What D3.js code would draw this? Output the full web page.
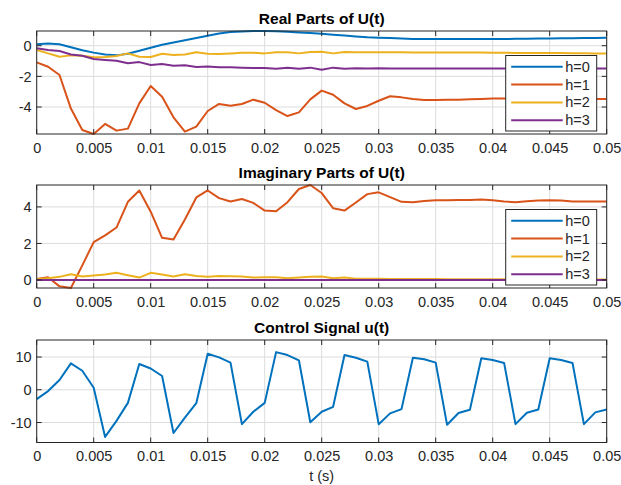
<!DOCTYPE html>
<html><head><meta charset="utf-8">
<script src="https://cdn.jsdelivr.net/npm/d3@7"></script>
<style>
html,body{margin:0;padding:0;background:#fff;}
text{font-family:"Liberation Sans",Arial,sans-serif;}
</style></head>
<body><svg id="c" width="621" height="485"></svg>
<script>
// ---- data ----
const t = [0,0.001,0.002,0.003,0.004,0.005,0.006,0.007,0.008,0.009,
  0.010,0.011,0.012,0.013,0.014,0.015,0.016,0.017,0.018,0.019,
  0.020,0.021,0.022,0.023,0.024,0.025,0.026,0.027,0.028,0.029,
  0.030,0.031,0.032,0.033,0.034,0.035,0.036,0.037,0.038,0.039,
  0.040,0.041,0.042,0.043,0.044,0.045,0.046,0.047,0.048,0.049,0.050];
const seriesNames = ["h=0","h=1","h=2","h=3"];
const realH0 = [0.10,0.15,0.10,-0.10,-0.30,-0.45,-0.58,-0.63,-0.52,-0.33,
  -0.13,0.06,0.21,0.35,0.50,0.65,0.80,0.89,0.93,0.96,
  0.96,0.94,0.91,0.87,0.83,0.78,0.72,0.66,0.60,0.55,
  0.52,0.50,0.47,0.44,0.43,0.43,0.43,0.43,0.43,0.43,
  0.43,0.44,0.45,0.46,0.47,0.47,0.48,0.49,0.50,0.51,0.52];
const realH1 = [-1.09,-1.37,-1.91,-4.10,-5.50,-5.76,-5.10,-5.54,-5.41,-3.76,
  -2.63,-3.33,-4.67,-5.60,-5.28,-4.26,-3.80,-3.91,-3.80,-3.52,
  -3.72,-4.20,-4.59,-4.35,-3.50,-2.93,-3.20,-3.76,-4.13,-3.93,
  -3.59,-3.30,-3.37,-3.48,-3.54,-3.54,-3.53,-3.52,-3.50,-3.47,
  -3.45,-3.45,-3.47,-3.46,-3.45,-3.45,-3.46,-3.47,-3.48,-3.48,-3.48];
const realH2 = [-0.28,-0.50,-0.72,-0.63,-0.65,-0.76,-0.74,-0.67,-0.50,-0.72,
  -0.74,-0.52,-0.61,-0.57,-0.43,-0.52,-0.54,-0.50,-0.46,-0.46,
  -0.50,-0.43,-0.43,-0.50,-0.41,-0.39,-0.50,-0.41,-0.43,-0.43,
  -0.43,-0.43,-0.43,-0.44,-0.44,-0.44,-0.44,-0.45,-0.45,-0.45,
  -0.46,-0.46,-0.47,-0.47,-0.48,-0.48,-0.48,-0.49,-0.49,-0.50,-0.50];
const realH3 = [-0.17,-0.28,-0.35,-0.57,-0.65,-0.87,-0.93,-0.98,-1.15,-1.07,
  -1.26,-1.20,-1.30,-1.28,-1.39,-1.35,-1.41,-1.41,-1.43,-1.46,
  -1.45,-1.50,-1.43,-1.50,-1.43,-1.57,-1.43,-1.50,-1.47,-1.48,
  -1.47,-1.48,-1.48,-1.48,-1.48,-1.48,-1.48,-1.48,-1.48,-1.48,
  -1.48,-1.48,-1.48,-1.48,-1.48,-1.48,-1.48,-1.48,-1.48,-1.48,-1.48];
const imagH0 = [0,0,0,0,0,0,0,0,0,0,0,0,0,0,0,0,0,0,0,0,0,0,0,0,0,
  0,0,0,0,0,0,0,0,0,0,0,0,0,0,0,0,0,0,0,0,0,0,0,0,0,0];
const imagH1 = [0.05,0.15,-0.35,-0.44,0.80,2.07,2.44,2.87,4.28,4.90,
  3.74,2.31,2.22,3.31,4.52,4.90,4.48,4.30,4.43,4.22,
  3.80,3.76,4.26,4.98,5.20,4.76,3.93,3.80,4.24,4.70,
  4.80,4.54,4.28,4.26,4.33,4.37,4.37,4.38,4.38,4.40,
  4.37,4.30,4.26,4.31,4.35,4.37,4.35,4.30,4.30,4.30,4.30];
const imagH2 = [0.04,0.10,0.17,0.31,0.19,0.24,0.30,0.39,0.26,0.13,
  0.39,0.30,0.19,0.31,0.22,0.17,0.22,0.20,0.19,0.13,
  0.15,0.15,0.09,0.13,0.17,0.19,0.09,0.13,0.07,0.06,
  0.06,0.05,0.05,0.05,0.05,0.05,0.04,0.04,0.04,0.04,
  0.04,0.04,0.04,0.03,0.03,0.03,0.03,0.03,0.03,0.03,0.03];
const imagH3 = [0,0,0,0,0,0,0,0,0,0,0,0,0,0,0,0,0,0,0,0,0,0,0,0,0,
  0,0,0,0,0,0,0,0,0,0,0,0,0,0,0,0,0,0,0,0,0,0,0,0,0,0];
const controlU = [-2.86,-0.40,3.00,8.06,5.80,0.60,-14.40,-9.50,-4.00,7.86,
  6.50,4.20,-13.20,-8.50,-4.10,11.00,9.90,8.30,-10.50,-6.70,
  -4.00,11.50,10.60,9.00,-9.90,-6.70,-5.20,10.60,9.80,8.60,
  -10.50,-7.20,-5.90,9.80,9.30,8.30,-10.70,-7.10,-6.10,9.60,
  9.10,8.20,-10.50,-7.00,-6.00,9.60,9.10,8.20,-10.50,-6.90,-6.00];
const xTicks = [0,0.005,0.01,0.015,0.02,0.025,0.03,0.035,0.04,0.045,0.05];
const yTicksReal = [-4,-2,0];
const yTicksImag = [0,2,4];
const yTicksCtrl = [-10,0,10];
const ctrlLimits = [-16.1,15.2];
const titles = ["Real Parts of U(t)","Imaginary Parts of U(t)","Control Signal u(t)"];
const xLabel = "t (s)";
const colors = ["#0072BD","#D95319","#EDB120","#7E2F8E"];

// ---- layout ----
const svg = d3.select("#c");
const L = 36.7, R = 606.7;
const x = d3.scaleLinear().domain([0,0.05]).range([L,R]);
const axColor = "#262626";

function panel(top, bottom, seriesList, yDomain, yTicks, title, legend, showXLabel){
  const y = d3.scaleLinear().domain(yDomain).range([bottom, top]);
  const g = svg.append("g");
  // grid
  g.append("g").selectAll("line").data(xTicks).join("line")
    .attr("x1",d=>x(d)).attr("x2",d=>x(d)).attr("y1",top).attr("y2",bottom)
    .attr("stroke","#dcdcdc").attr("stroke-width",1);
  g.append("g").selectAll("line").data(yTicks).join("line")
    .attr("x1",L).attr("x2",R).attr("y1",d=>y(d)).attr("y2",d=>y(d))
    .attr("stroke","#dcdcdc").attr("stroke-width",1);
  // lines
  const clipId = "clip"+Math.round(top);
  svg.append("clipPath").attr("id",clipId).append("rect")
    .attr("x",L).attr("y",top-1).attr("width",R-L).attr("height",bottom-top+2);
  const line = d3.line().x((d,i)=>x(t[i])).y(d=>y(d));
  const lg = g.append("g").attr("clip-path",`url(#${clipId})`);
  seriesList.forEach((s,i)=>{
    lg.append("path").attr("d",line(s.values)).attr("fill","none")
      .attr("stroke",s.color).attr("stroke-width",2).attr("stroke-linejoin","round");
  });
  // axes (MATLAB-style inward ticks, box)
  const tl = 5;
  const axB = d3.axisBottom(x).tickValues(xTicks).tickSize(0).tickFormat(d=>d3.format("~g")(d));
  const xa = g.append("g").attr("transform",`translate(0,${bottom})`).call(axB);
  xa.select(".domain").remove();
  xa.selectAll("text").attr("dy",0).attr("y",18.5).attr("fill",axColor).style("font-size","14.5px").style("font-family","Liberation Sans, Arial, sans-serif");
  const axL = d3.axisLeft(y).tickValues(yTicks).tickSize(0).tickFormat(d=>String(d));
  const ya = g.append("g").attr("transform",`translate(${L},0)`).call(axL);
  ya.select(".domain").remove();
  ya.selectAll("text").attr("x",-5).attr("fill",axColor).style("font-size","14.5px").style("font-family","Liberation Sans, Arial, sans-serif");
  // tick marks
  xTicks.forEach(v=>{
    g.append("line").attr("x1",x(v)).attr("x2",x(v)).attr("y1",bottom).attr("y2",bottom-tl).attr("stroke",axColor);
    g.append("line").attr("x1",x(v)).attr("x2",x(v)).attr("y1",top).attr("y2",top+tl).attr("stroke",axColor);
  });
  yTicks.forEach(v=>{
    g.append("line").attr("x1",L).attr("x2",L+tl).attr("y1",y(v)).attr("y2",y(v)).attr("stroke",axColor);
    g.append("line").attr("x1",R).attr("x2",R-tl).attr("y1",y(v)).attr("y2",y(v)).attr("stroke",axColor);
  });
  g.append("rect").attr("x",L).attr("y",top).attr("width",R-L).attr("height",bottom-top)
    .attr("fill","none").attr("stroke",axColor).attr("stroke-width",1);
  // title
  g.append("text").attr("x",(L+R)/2).attr("y",top-7).attr("text-anchor","middle")
    .style("font-weight","bold").style("font-size","15.5px").attr("fill","#000").text(title);
  if(showXLabel){
    g.append("text").attr("x",(L+R)/2).attr("y",bottom+38.5).attr("text-anchor","middle")
      .style("font-size","14.5px").attr("fill",axColor).text(xLabel);
  }
  if(legend){
    const lw=91, lh=75.5, lx=R-10-lw, ly=bottom-3-lh;
    const leg = g.append("g");
    leg.append("rect").attr("x",lx).attr("y",ly).attr("width",lw).attr("height",lh)
      .attr("fill","#fff").attr("stroke",axColor).attr("stroke-width",1);
    seriesList.forEach((s,i)=>{
      const cy = ly+11.3+i*17.8;
      leg.append("line").attr("x1",lx+5.5).attr("x2",lx+57).attr("y1",cy).attr("y2",cy)
        .attr("stroke",s.color).attr("stroke-width",2);
      leg.append("text").attr("x",lx+59.5).attr("y",cy).attr("dy","0.35em")
        .style("font-size","14.5px").attr("fill",axColor).text(s.name);
    });
  }
}

const realSeries = [realH0,realH1,realH2,realH3].map((v,i)=>({name:seriesNames[i],values:v,color:colors[i]}));
const imagSeries = [imagH0,imagH1,imagH2,imagH3].map((v,i)=>({name:seriesNames[i],values:v,color:colors[i]}));
const realExt = d3.extent([].concat(realH0,realH1,realH2,realH3));
const imagExt = d3.extent([].concat(imagH0,imagH1,imagH2,imagH3));

panel(31,134,realSeries,realExt,yTicksReal,titles[0],true,false);
panel(185,288,imagSeries,imagExt,yTicksImag,titles[1],true,false);
panel(340,442.5,[{name:"u",values:controlU,color:colors[0]}],ctrlLimits,yTicksCtrl,titles[2],false,true);
</script></body></html>
